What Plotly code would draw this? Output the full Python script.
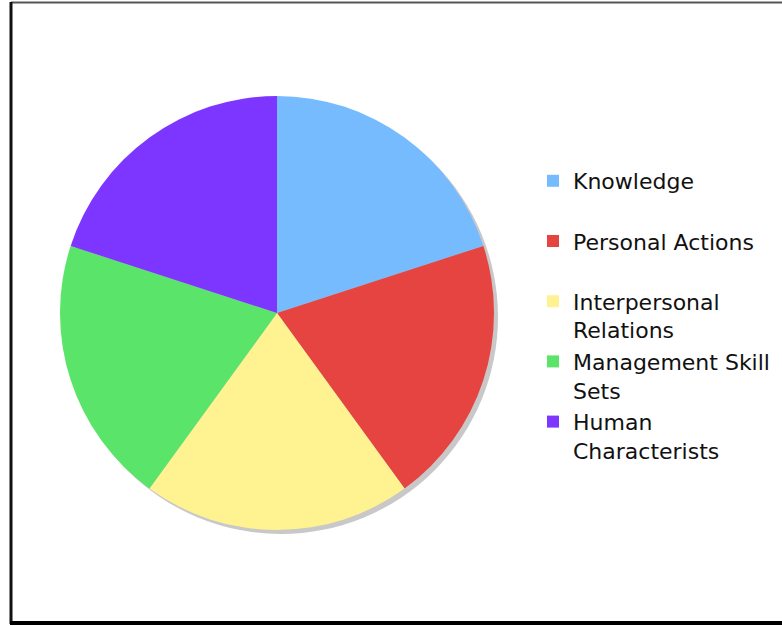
import plotly.graph_objects as go

categories = ["Knowledge", "Personal Actions", "Interpersonal<br>Relations",
              "Management Skill<br>Sets", "Human<br>Characterists"]
values = [20, 20, 20, 20, 20]
colors = ["#77BBFF", "#E54441", "#FFF291", "#5BE46A", "#7D36FF"]

W, H = 782, 626
# pie geometry in pixels
cx, cy, r = 277, 313, 217
sh = 4  # shadow offset

def px(x):
    return x / W

def py(y):
    return 1 - y / H

legend_labels = [c if "<br>" in c else c + "<br> " for c in categories]

fig = go.Figure()
fig.add_trace(go.Pie(
    labels=legend_labels,
    values=values,
    marker=dict(colors=colors, line=dict(width=0)),
    sort=False,
    direction="clockwise",
    rotation=0,
    textinfo="none",
    hoverinfo="label+percent",
    domain=dict(x=[px(cx - r), px(cx + r)], y=[py(cy + r), py(cy - r)]),
))

shapes = [
    # shadow
    dict(type="circle", xref="paper", yref="paper", layer="below",
         x0=px(cx - r + sh), x1=px(cx + r + sh), y0=py(cy + r + sh), y1=py(cy - r + sh),
         fillcolor="#c8c8c8", line=dict(width=0)),
    # frame
    dict(type="line", xref="paper", yref="paper", x0=px(11), x1=1.01, y0=py(2.5), y1=py(2.5),
         line=dict(color="#555555", width=2)),
    dict(type="line", xref="paper", yref="paper", x0=px(11), x1=px(11), y0=py(2), y1=py(624),
         line=dict(color="#111111", width=3)),
    dict(type="line", xref="paper", yref="paper", x0=px(10), x1=1.01, y0=py(623), y1=py(623),
         line=dict(color="#000000", width=4)),
]

fig.update_layout(
    width=W, height=H,
    margin=dict(l=0, r=0, t=0, b=0),
    paper_bgcolor="white",
    plot_bgcolor="white",
    shapes=shapes,
    showlegend=True,
    legend=dict(
        x=px(533), y=py(160), xanchor="left", yanchor="top",
        font=dict(family="DejaVu Sans, Verdana, sans-serif", size=22, color="#111111"),
        valign="top",
        bgcolor="rgba(0,0,0,0)",
    ),
)

fig.write_html("out.html")
